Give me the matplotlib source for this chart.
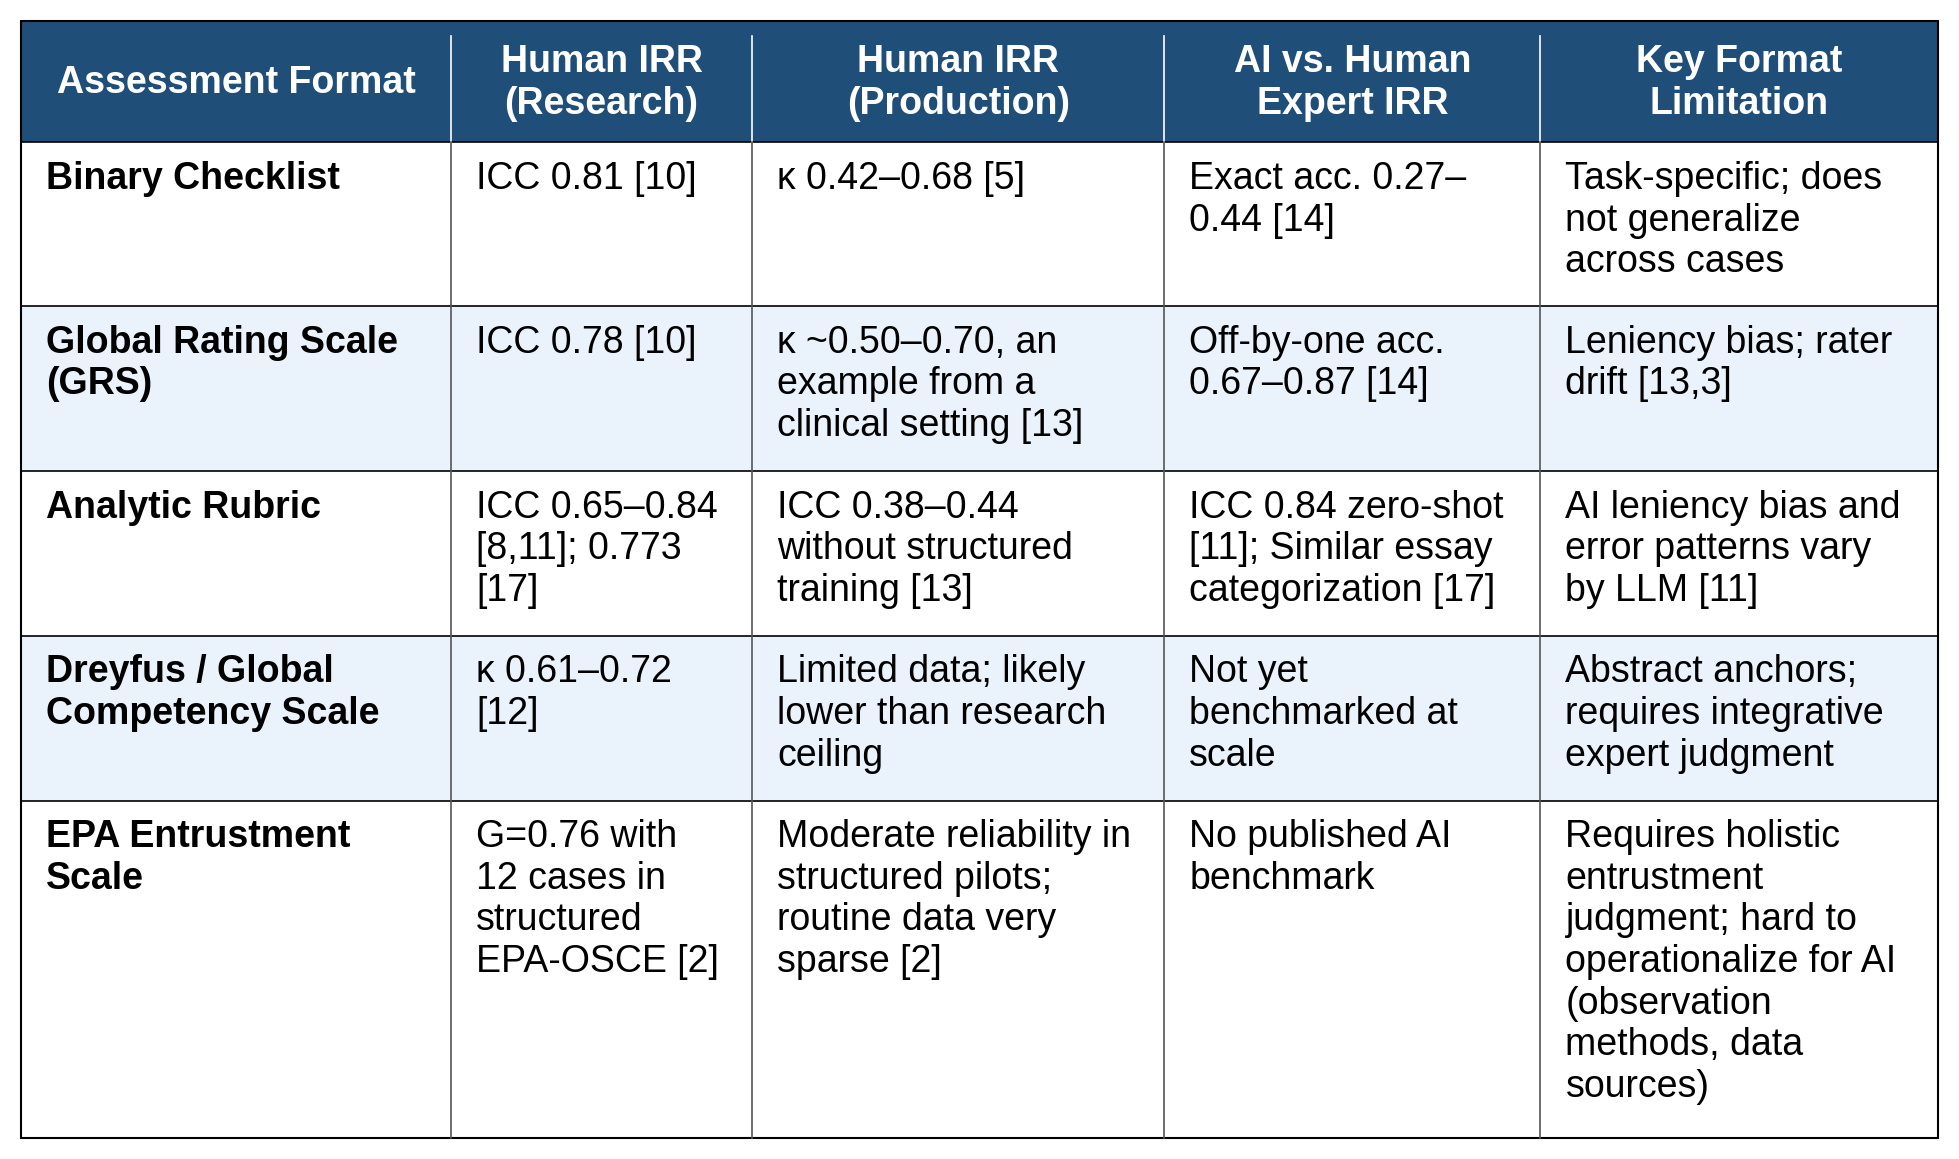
import matplotlib
matplotlib.use("Agg")
import matplotlib.pyplot as plt
from matplotlib.patches import Rectangle

headers = ["Assessment Format", "Human IRR\n(Research)", "Human IRR\n(Production)",
           "AI vs. Human\nExpert IRR", "Key Format\nLimitation"]
formats = ["Binary Checklist", "Global Rating Scale\n(GRS)", "Analytic Rubric",
           "Dreyfus / Global\nCompetency Scale", "EPA Entrustment\nScale"]
research = ["ICC 0.81 [10]", "ICC 0.78 [10]", "ICC 0.65–0.84\n[8,11]; 0.773\n[17]",
            "κ 0.61–0.72\n[12]", "G=0.76 with\n12 cases in\nstructured\nEPA-OSCE [2]"]
production = ["κ 0.42–0.68 [5]", "κ ~0.50–0.70, an\nexample from a\nclinical setting [13]",
              "ICC 0.38–0.44\nwithout structured\ntraining [13]",
              "Limited data; likely\nlower than research\nceiling",
              "Moderate reliability in\nstructured pilots;\nroutine data very\nsparse [2]"]
ai_irr = ["Exact acc. 0.27–\n0.44 [14]", "Off-by-one acc.\n0.67–0.87 [14]",
          "ICC 0.84 zero-shot\n[11]; Similar essay\ncategorization [17]",
          "Not yet\nbenchmarked at\nscale", "No published AI\nbenchmark"]
limitation = ["Task-specific; does\nnot generalize\nacross cases", "Leniency bias; rater\ndrift [13,3]",
              "AI leniency bias and\nerror patterns vary\nby LLM [11]",
              "Abstract anchors;\nrequires integrative\nexpert judgment",
              "Requires holistic\nentrustment\njudgment; hard to\noperationalize for AI\n(observation\nmethods, data\nsources)"]

cols = [17, 361, 602, 932, 1233, 1551]
rows = [17, 114, 245, 377, 509, 641, 911]

fig = plt.figure(figsize=(19.59, 11.59), dpi=100)
ax = fig.add_axes([0, 0, 1, 1])
ax.set_xlim(0, 1568); ax.set_ylim(928, 0); ax.axis("off")
plt.rcParams['font.family'] = ['Liberation Sans', 'DejaVu Sans']

hdr = "#1f4e79"
ax.add_patch(Rectangle((cols[0], rows[0]), cols[-1]-cols[0], rows[1]-rows[0], color=hdr, lw=0))
for i in range(5):
    y0, y1 = rows[i+1], rows[i+2]
    fc = "#eaf2fb" if i % 2 == 1 else "white"
    ax.add_patch(Rectangle((cols[0], y0), cols[-1]-cols[0], y1-y0, color=fc, lw=0))

fs = 27
ls = 1.2
for j, h in enumerate(headers):
    ax.text((cols[j]+cols[j+1])/2, (rows[0]+rows[1])/2 + 1, h, ha="center", va="center",
            color="white", fontsize=fs, fontweight="bold", linespacing=ls)

data = [formats, research, production, ai_irr, limitation]
for j, colvals in enumerate(data):
    for i, v in enumerate(colvals):
        ax.text(cols[j]+20, rows[i+1]+15, v, ha="left", va="top", fontsize=fs,
                fontweight="bold" if j == 0 else "normal", color="black", linespacing=ls)

for y in rows[1:-1]:
    ax.plot([cols[0], cols[-1]], [y, y], color="black", lw=1.2)
for x in cols[1:-1]:
    ax.plot([x, x], [rows[0]+12, rows[1]], color="white", lw=1.2)
    ax.plot([x, x], [rows[1], rows[-1]], color="#555555", lw=1.2)
ax.add_patch(Rectangle((cols[0], rows[0]), cols[-1]-cols[0], rows[-1]-rows[0], fill=False,
                       ec="black", lw=1.5))
fig.savefig("out.png", dpi=100)
